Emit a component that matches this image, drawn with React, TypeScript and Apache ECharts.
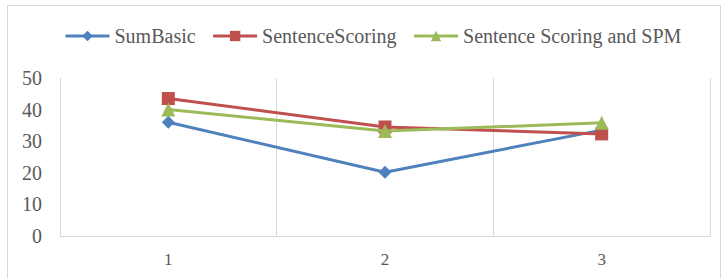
import React, { useEffect, useRef } from "react";
import * as echarts from "echarts";

const categories = ["1", "2", "3"];
const sumBasic = [36, 20.2, 33.5];
const sentenceScoring = [43.5, 34.5, 32.3];
const sentenceScoringSPM = [40, 33.2, 35.8];

const FONT = "Times New Roman, Liberation Serif, serif";
const GRAY = "#d9d9d9";
const TEXT = "#595959";

export default function App() {
  const ref = useRef<HTMLDivElement>(null);
  useEffect(() => {
    const chart = echarts.init(ref.current!, null, { renderer: "svg" });
    chart.setOption({
      animation: false,
      backgroundColor: "#ffffff",
      textStyle: { fontFamily: FONT },
      graphic: [
        {
          type: "rect",
          shape: { x: 7.5, y: 5.5, width: 713, height: 290 },
          style: { fill: "none", stroke: GRAY, lineWidth: 1 },
          silent: true,
        },
      ],
      legend: {
        left: 59,
        top: 21,
        itemWidth: 44,
        itemHeight: 13,
        itemGap: 16,
        lineStyle: { width: 3 },
        textStyle: { fontFamily: FONT, fontSize: 20, color: TEXT },
        data: ["SumBasic", "SentenceScoring", "Sentence Scoring and SPM"],
      },
      grid: { left: 60, right: 13, top: 78, bottom: 42 },
      xAxis: {
        type: "category",
        data: categories,
        boundaryGap: true,
        axisLine: { lineStyle: { color: GRAY, width: 1 } },
        axisTick: { show: false },
        splitLine: { show: true, lineStyle: { color: GRAY, width: 1 } },
        axisLabel: { fontFamily: FONT, fontSize: 17, color: TEXT, margin: 15 },
      },
      yAxis: {
        type: "value",
        min: 0,
        max: 50,
        interval: 10,
        axisLine: { show: true, lineStyle: { color: GRAY, width: 1 } },
        axisTick: { show: false },
        splitLine: { show: false },
        axisLabel: { fontFamily: FONT, fontSize: 20, color: TEXT, margin: 18 },
      },
      series: [
        {
          name: "SumBasic",
          type: "line",
          data: sumBasic,
          symbol: "diamond",
          symbolSize: 13,
          color: "#4F81BD",
          lineStyle: { width: 3, color: "#4F81BD" },
          itemStyle: { color: "#4F81BD" },
          z: 3,
        },
        {
          name: "SentenceScoring",
          type: "line",
          data: sentenceScoring,
          symbol: "rect",
          symbolSize: 13,
          color: "#C0504D",
          lineStyle: { width: 3, color: "#C0504D" },
          itemStyle: { color: "#C0504D" },
          z: 4,
        },
        {
          name: "Sentence Scoring and SPM",
          type: "line",
          data: sentenceScoringSPM,
          symbol: "triangle",
          symbolSize: 14,
          color: "#9BBB59",
          lineStyle: { width: 3, color: "#9BBB59" },
          itemStyle: { color: "#9BBB59" },
          z: 5,
        },
      ],
    });
    return () => chart.dispose();
  }, []);
  return (
    <div
      ref={ref}
      style={{ position: "fixed", left: 0, top: 0, width: 723, height: 278 }}
    />
  );
}
